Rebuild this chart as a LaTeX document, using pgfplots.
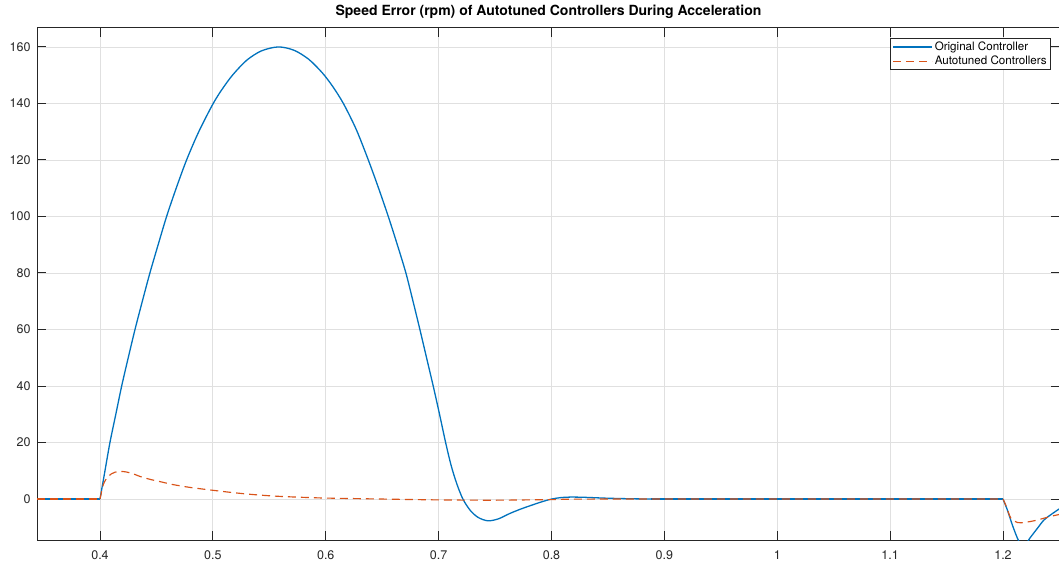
\documentclass[border=0pt]{standalone}
\usepackage{fontspec}
\setmainfont{TeX Gyre Heros}
\usepackage{pgfplots}
\pgfplotsset{compat=1.18}
\usetikzlibrary{calc}
\definecolor{mblue}{rgb}{0,0.447,0.741}
\definecolor{morange}{rgb}{0.85,0.325,0.098}
\definecolor{axgray}{rgb}{0.15,0.15,0.15}
\pgfplotstableread{
x y
0.4000 0
0.4044 10
0.4088 20
0.4140 30
0.4192 40
0.4250 50
0.4310 60
0.4375 70
0.4442 80
0.4515 90
0.4590 100
0.4675 110
0.4767 120
0.4875 130
0.5003 140
0.5090 145.5
0.5180 150.3
0.5300 155.3
0.5430 158.6
0.5580 160
0.5720 158.8
0.5850 155.6
0.5970 150.8
0.6060 146.1
0.6156 140
0.6270 130.8
0.6377 120
0.6468 110
0.6554 100
0.6634 90
0.6710 80
0.6773 70
0.6834 60
0.6893 50
0.6952 40
0.7008 30
0.7062 20
0.7110 12
0.7160 5.5
0.7215 0
0.7280 -4
0.7350 -6.5
0.7437 -7.7
0.7530 -7
0.7631 -5.1
0.7730 -3.5
0.7837 -2.0
0.7920 -0.9
0.8000 0
0.8080 0.5
0.8170 0.7
0.8300 0.6
0.8490 0.3
0.8700 0.1
0.8880 0
}\bluemain
\pgfplotstableread{
x y
0.34418 0
0.4000 0
}\blueflatA
\pgfplotstableread{
x y
0.8880 0
1.2000 0
}\blueflatB
\pgfplotstableread{
x y
1.2000 0
1.2039 -3.9
1.2083 -9.2
1.2128 -13.9
1.2155 -15.8
1.2185 -16.2
1.2210 -15.6
1.2235 -14.0
1.2300 -10.6
1.2363 -7.4
1.2425 -5.5
1.2505 -3.3
}\blueend
\pgfplotstableread{
x y
0.34418 0
0.4000 0
}\orflatA
\pgfplotstableread{
x y
0.4000 0
0.4015 2.8
0.4029 5.1
0.4050 6.8
0.4073 8.0
0.4100 8.9
0.4133 9.5
0.4177 9.8
0.4230 9.6
0.4290 9.0
0.4354 8.0
0.4450 6.9
0.4550 6.0
0.4649 5.1
0.4800 4.1
0.5000 3.1
0.5150 2.4
0.5296 1.8
0.5450 1.3
0.5590 0.95
0.5800 0.6
0.6000 0.35
0.6500 0.0
0.7000 -0.3
0.7500 -0.4
0.8000 -0.2
0.8500 0
1.2000 0
}\ormain
\pgfplotstableread{
x y
1.2000 0
1.2027 -2.4
1.2050 -5.0
1.2070 -6.8
1.2100 -7.8
1.2128 -8.3
1.2160 -8.4
1.2186 -8.3
1.2250 -7.9
1.2305 -7.4
1.2370 -6.7
1.2438 -6.0
1.2505 -5.4
}\orend
\begin{document}
\begin{tikzpicture}
\begin{axis}[name=ax, scale only axis, width=1023pt, height=512pt,
 xmin=0.34418, xmax=1.2505, ymin=-14.5, ymax=166.7,
 xtick={0.4,0.5,0.6,0.7,0.8,0.9,1,1.1,1.2},
 ytick={0,20,40,60,80,100,120,140,160},
 grid=major, major grid style={draw=black!12, line width=0.8pt},
 axis line style={draw=axgray, line width=1pt},
 major tick length=9pt, every tick/.style={draw=axgray, line width=1pt},
 tick label style={font=\fontsize{12.5}{14}\selectfont, text=axgray},
 xticklabel style={anchor=base, yshift=-19pt},
 yticklabel style={anchor=east, xshift=-3pt},
 /pgf/number format/assume math mode=true,
 title={\bfseries Speed Error (rpm) of Autotuned Controllers During Acceleration},
 title style={font=\fontsize{14}{16}\selectfont, at={(0.5,1)}, anchor=base, yshift=6.5pt},
 legend image code/.code={\draw[#1] (0pt,0pt) -- (39pt,0pt);},
 legend style={at={(1,1)}, anchor=north east, xshift=-9pt, yshift=-10pt,
   font=\fontsize{11.6}{13}\selectfont, draw=axgray, line width=0.8pt,
   inner xsep=2pt, inner ysep=1.5pt, row sep=0pt, cells={anchor=west}},
 blueline/.style={mblue, line width=1.3pt},
 orline/.style={draw=morange, line width=1.15pt, dash pattern=on 8pt off 5pt},
]
\addplot[blueline, smooth, tension=0.5] table {\bluemain};
\addlegendentry{Original Controller}
\addplot[blueline, forget plot] table {\blueflatA};
\addplot[blueline, forget plot] table {\blueflatB};
\addplot[blueline, smooth, tension=0.5, forget plot] table {\blueend};
\addplot[orline, smooth, tension=0.5] table {\ormain};
\addlegendentry{Autotuned Controllers}
\addplot[orline, forget plot] table {\orflatA};
\addplot[orline, smooth, tension=0.5, forget plot] table {\orend};
\end{axis}
\pgfresetboundingbox
\path ($(ax.south west)+(-37pt,-22pt)$) rectangle ($(ax.north east)+(-1pt,28pt)$);
\end{tikzpicture}
\end{document}
